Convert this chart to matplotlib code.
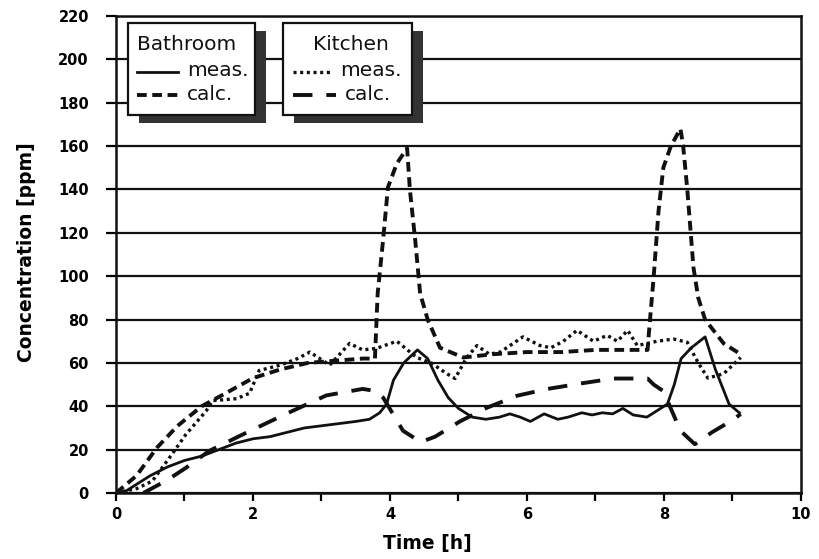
import matplotlib
matplotlib.use("Agg")
import matplotlib.pyplot as plt
from matplotlib.patches import Rectangle
from matplotlib.lines import Line2D
from matplotlib.ticker import MultipleLocator

plt.rcParams['font.family'] = ['DejaVu Sans']
plt.rcParams['lines.scale_dashes'] = False

# ---- data ----
bath_meas_t = [0, 0.15, 0.3, 0.5, 0.75, 1.0, 1.25, 1.5, 1.75, 2.0, 2.25, 2.5, 2.75, 3.0, 3.25,
               3.5, 3.7, 3.85, 3.95, 4.05, 4.2, 4.4, 4.55, 4.7, 4.85, 5.0, 5.2, 5.4, 5.6, 5.75,
               5.9, 6.05, 6.25, 6.45, 6.6, 6.8, 6.95, 7.1, 7.25, 7.4, 7.55, 7.75, 7.9, 8.05,
               8.15, 8.25, 8.4, 8.6, 8.75, 8.95, 9.1]
bath_meas_y = [0, 1, 4, 8, 12, 15, 17, 20, 23, 25, 26, 28, 30, 31, 32,
               33, 34, 37, 41, 52, 60, 66, 62, 52, 44, 39, 35, 34, 35, 36.5,
               35, 33, 36.5, 34, 35, 37, 36, 37, 36.5, 39, 36, 35, 38, 41,
               50, 62, 67, 72, 57, 41, 37]

bath_calc_t = [0, 0.3, 0.6, 0.9, 1.25, 1.6, 2.0, 2.4, 2.8, 3.2, 3.6, 3.78, 3.82, 3.9, 3.97,
               4.1, 4.25, 4.29, 4.37, 4.44, 4.55, 4.73, 5.07, 5.5, 6.0, 6.5, 7.0, 7.5, 7.76,
               7.78, 7.85, 7.92, 7.99, 8.1, 8.24, 8.28, 8.34, 8.43, 8.5, 8.6, 8.87, 9.12]
bath_calc_y = [0, 8, 21, 31, 40, 46, 53, 57, 60, 61, 62, 62, 92, 117, 141,
               152, 159, 140, 116, 92, 80, 67, 62.5, 64, 65, 65, 66, 66, 66,
               74, 100, 130, 150, 160, 168, 160, 140, 104, 90, 80, 69, 64]

kit_meas_t = [0, 0.3, 0.53, 0.82, 1.02, 1.32, 1.41, 1.76, 1.95, 2.09, 2.4, 2.65, 2.83, 3.12,
              3.41, 3.6, 3.8, 4.1, 4.39, 4.6, 4.83, 4.95, 5.12, 5.27, 5.45, 5.61, 5.94, 6.19,
              6.35, 6.53, 6.73, 6.97, 7.17, 7.32, 7.47, 7.61, 7.9, 8.14, 8.34, 8.5, 8.64,
              8.87, 9.12]
kit_meas_y = [0, 2, 5.5, 18, 27, 38, 42.6, 43.5, 46, 56.5, 59, 62, 65, 59,
              69, 66, 66.7, 70, 62.5, 60, 55, 52.8, 62.5, 68, 64, 65, 72, 68,
              67, 70, 75, 70, 72.7, 70, 75, 68, 70, 71, 69.5, 60, 53,
              55, 62.5]

kit_calc_t = [0.4, 0.75, 1.02, 1.36, 1.85, 2.49, 3.07, 3.6, 3.8, 3.9, 4.19, 4.45, 4.66, 5.02,
              5.42, 5.86, 6.3, 6.78, 7.26, 7.76, 7.85, 7.99, 8.24, 8.45, 8.7, 9.02, 9.12]
kit_calc_y = [0, 6, 11.6, 19.4, 27, 36.6, 45, 48, 47, 44, 28.7, 23.5, 26, 33,
              39.4, 44.9, 48, 50.5, 52.8, 52.8, 50, 47, 28.7, 22.5, 28, 34, 36.5]

x_ticks = [0, 2, 4, 6, 8, 10]
y_ticks = list(range(0, 221, 20))

# ---- styles ----
SOLID = dict(color='#111111', lw=2.0, linestyle='-')
SHORT = dict(color='#111111', lw=2.8, linestyle=(0, (7, 4)), dash_capstyle='butt')
DOT = dict(color='#111111', lw=2.4, linestyle=(0, (2.2, 2.6)), dash_capstyle='butt')
LONG = dict(color='#111111', lw=2.8, linestyle=(0, (14, 10)), dash_capstyle='butt')

fig = plt.figure(figsize=(8.2, 5.59), dpi=100)
ax = fig.add_axes([116 / 820, 1 - 493 / 559, 685 / 820, 477 / 559])

ax.plot(bath_meas_t, bath_meas_y, **SOLID, zorder=5)
ax.plot(bath_calc_t, bath_calc_y, **SHORT, zorder=5)
ax.plot(kit_meas_t, kit_meas_y, **DOT, zorder=5)
ax.plot(kit_calc_t, kit_calc_y, **LONG, zorder=5)

ax.set_xlim(0, 10)
ax.set_ylim(0, 220)
ax.set_xticks(x_ticks)
ax.xaxis.set_minor_locator(MultipleLocator(1))
ax.set_yticks(y_ticks)
ax.yaxis.grid(True, color='#111111', lw=1.6)
ax.set_axisbelow(True)
for s in ax.spines.values():
    s.set_linewidth(1.8)
    s.set_color('#111111')
ax.tick_params(axis='y', which='major', direction='out', length=7.5, width=1.6, pad=12,
               labelsize=10.5)
ax.tick_params(axis='x', which='both', direction='out', length=6, width=1.6, pad=4,
               labelsize=10.5)
for lbl in ax.get_xticklabels() + ax.get_yticklabels():
    lbl.set_fontweight('bold')

ax.set_xlabel('Time [h]', fontsize=13.5, fontweight='bold')
ax.set_ylabel('Concentration [ppm]', fontsize=13.5, fontweight='bold')
ax.xaxis.set_label_coords(0.454, -0.105)
ax.xaxis.label.set_va('center')
ax.yaxis.set_label_coords(-0.130, 0.505)
ax.yaxis.label.set_va('center')

# ---- legend boxes (pixel overlay) ----
ov = fig.add_axes([0, 0, 1, 1], zorder=10)
ov.set_xlim(0, 820)
ov.set_ylim(559, 0)
ov.axis('off')
ov.patch.set_visible(False)

def legend_box(x0, x1, title, title_x, entries):
    y0, y1 = 23, 115
    ov.add_patch(Rectangle((x0 + 11, y0 + 8), x1 - x0, y1 - y0, facecolor='#333333',
                           edgecolor='none'))
    ov.add_patch(Rectangle((x0, y0), x1 - x0, y1 - y0, facecolor='white',
                           edgecolor='#111111', lw=1.6))
    ov.text(title_x, 45, title, fontsize=14.5, ha='left', va='center', color='#111111')
    for (yy, style, lx0, lx1, tx, label) in entries:
        ov.add_line(Line2D([lx0, lx1], [yy, yy], **style))
        ov.text(tx, yy - 1, label, fontsize=14.5, ha='left', va='center', color='#111111')

legend_box(128, 255, 'Bathroom', 137,
           [(72, SOLID, 137, 178, 187, 'meas.'),
            (95, SHORT, 137, 178, 187, 'calc.')])
legend_box(283, 412, 'Kitchen', 313,
           [(72, DOT, 293, 333, 340, 'meas.'),
            (95, LONG, 293, 336, 345, 'calc.')])

fig.savefig('out.png', dpi=100)
